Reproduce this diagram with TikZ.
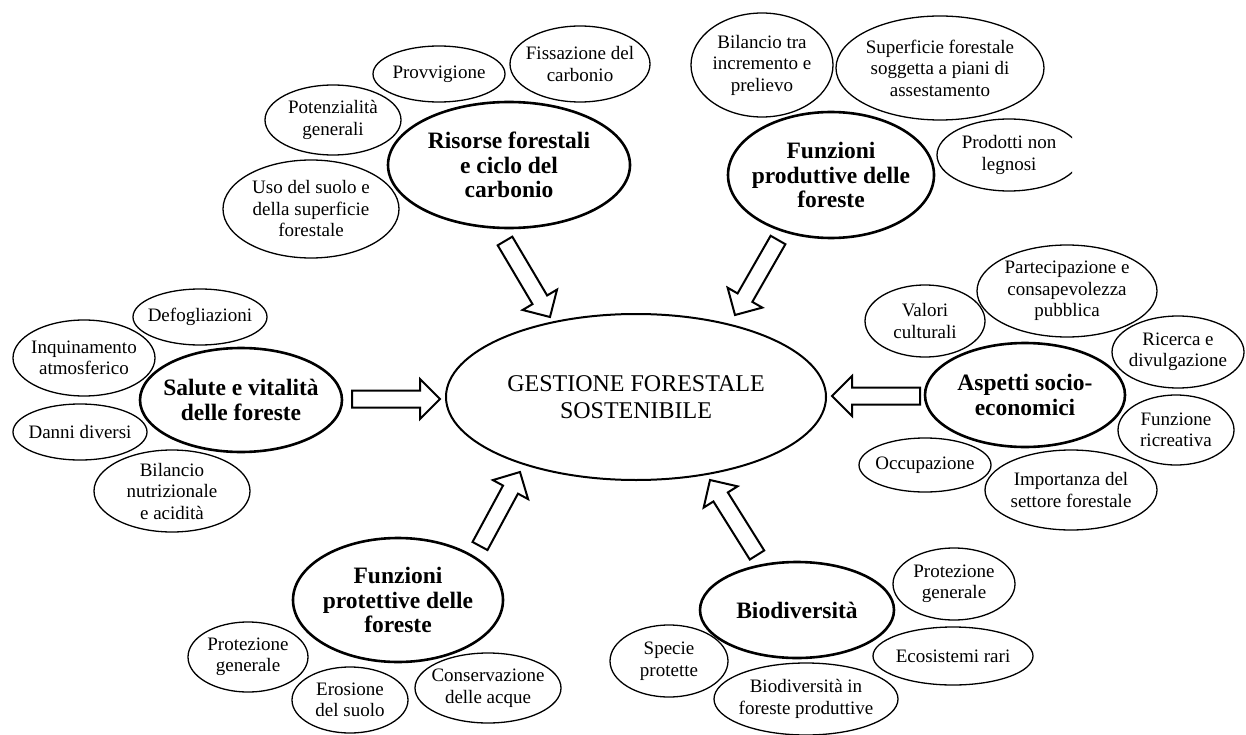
\documentclass[tikz,border=0pt]{standalone}
\usepackage{fontspec}
\setmainfont{Liberation Serif}
\usetikzlibrary{shapes.geometric,calc}
\tikzset{
  smallell/.style={draw, ellipse, line width=1.3pt, inner sep=0pt},
  catell/.style={draw, ellipse, line width=2.6pt, inner sep=0pt},
  centell/.style={draw, ellipse, line width=2pt, inner sep=0pt, align=center,
     font=\fontsize{24}{27}\selectfont},
  lbls/.style={align=center, inner sep=0pt, font=\fontsize{19}{21.5}\selectfont},
  lblc/.style={align=center, inner sep=0pt, font=\bfseries\fontsize{23.5}{24.5}\selectfont},
  barrow/.style={draw, line width=2pt, line join=miter, fill=white},
}
\newcommand{\blockarrow}[2]{%
  \coordinate (#1-b) at ($(#2)!20pt!(#1)$);
  \draw[barrow] ($(#1)!8.5pt!90:(#2)$) -- ($(#1-b)!8.5pt!90:(#2)$) -- ($(#1-b)!20pt!90:(#2)$)
     -- (#2) -- ($(#1-b)!20pt!-90:(#2)$) -- ($(#1-b)!8.5pt!-90:(#2)$) -- ($(#1)!8.5pt!-90:(#2)$) -- cycle;}
\begin{document}
\begin{tikzpicture}[x=1pt, y=-1pt]
\useasboundingbox (0,0) rectangle (1246,735);

% central
\node[centell, minimum width=380pt, minimum height=166pt] (gfs) at (636,397) {GESTIONE FORESTALE\\SOSTENIBILE};

% categories
\node[catell, minimum width=242pt, minimum height=126pt, label={[lblc]center:Risorse forestali\\e ciclo del\\carbonio}] (risorse) at (509,165) {};
\node[catell, minimum width=206pt, minimum height=126pt, label={[lblc]center:Funzioni\\produttive delle\\foreste}] (prod) at (831,175) {};
\node[catell, minimum width=202pt, minimum height=104pt, label={[lblc]center:Salute e vitalità\\delle foreste}] (salute) at (241,400) {};
\node[catell, minimum width=200pt, minimum height=104pt, label={[lblc]center:Aspetti socio-\\economici}] (aspetti) at (1025,395) {};
\node[catell, minimum width=210pt, minimum height=124pt, label={[lblc]center:Funzioni\\protettive delle\\foreste}] (protett) at (398,600) {};
\node[catell, minimum width=194pt, minimum height=96pt, label={[lblc]center:Biodiversità}] (biodiv) at (797,610) {};

% small: risorse
\node[smallell, minimum width=132pt, minimum height=56pt, label={[lbls]center:Provvigione}] (provv) at (439,74) {};
\node[smallell, minimum width=140pt, minimum height=76pt, label={[lbls]center:Fissazione del\\carbonio}] (fiss) at (580,64) {};
\node[smallell, minimum width=136pt, minimum height=70pt, label={[lbls]center:Potenzialità\\generali}] (potenz) at (333,120) {};
\node[smallell, minimum width=176pt, minimum height=98pt, label={[lbls]center:Uso del suolo e\\della superficie\\forestale}] (uso) at (311,209) {};

% small: produttive
\node[smallell, minimum width=142pt, minimum height=104pt, label={[lbls]center:Bilancio tra\\incremento e\\prelievo}] (bilinc) at (762,65) {};
\node[smallell, minimum width=208pt, minimum height=104pt, label={[lbls]center:Superficie forestale\\soggetta a piani di\\assestamento}] (superf) at (940,68) {};
\begin{scope}
\clip (0,0) rectangle (1072,735);
\node[smallell, minimum width=144pt, minimum height=72pt, label={[lbls]center:Prodotti non\\legnosi}] (prodotti) at (1009,155) {};
\end{scope}

% small: salute
\node[smallell, minimum width=134pt, minimum height=56pt, label={[lbls]center:Defogliazioni}] (defog) at (200,317) {};
\node[smallell, minimum width=142pt, minimum height=76pt, label={[lbls]center:Inquinamento\\atmosferico}] (inquin) at (84,358) {};
\node[smallell, minimum width=134pt, minimum height=56pt, label={[lbls]center:Danni diversi}] (danni) at (80,432) {};
\node[smallell, minimum width=156pt, minimum height=82pt, label={[lbls]center:Bilancio\\nutrizionale\\e acidità}] (bilnut) at (172,491) {};

% small: aspetti
\node[smallell, minimum width=120pt, minimum height=72pt, label={[lbls]center:Valori\\culturali}] (valori) at (925,321) {};
\node[smallell, minimum width=180pt, minimum height=92pt, label={[lbls]center:Partecipazione e\\consapevolezza\\pubblica}] (partec) at (1067,291) {};
\node[smallell, minimum width=132pt, minimum height=72pt, label={[lbls]center:Ricerca e\\divulgazione}] (ricerca) at (1178,352) {};
\node[smallell, minimum width=116pt, minimum height=70pt, label={[lbls]center:Funzione\\ricreativa}] (ricre) at (1176,430) {};
\node[smallell, minimum width=132pt, minimum height=54pt, label={[lbls]center:Occupazione}] (occup) at (925,465) {};
\node[smallell, minimum width=172pt, minimum height=80pt, label={[lbls]center:Importanza del\\settore forestale}] (import) at (1071,490) {};

% small: protettive
\node[smallell, minimum width=120pt, minimum height=70pt, label={[lbls]center:Protezione\\generale}] (protgenA) at (248,657) {};
\node[smallell, minimum width=116pt, minimum height=66pt, label={[lbls]center:Erosione\\del suolo}] (erosione) at (350,700) {};
\node[smallell, minimum width=146pt, minimum height=70pt, label={[lbls]center:Conservazione\\delle acque}] (conserv) at (488,688) {};

% small: biodiversita
\node[smallell, minimum width=122pt, minimum height=72pt, label={[lbls]center:Protezione\\generale}] (protgenB) at (954,584) {};
\node[smallell, minimum width=160pt, minimum height=58pt, label={[lbls]center:Ecosistemi rari}] (ecosist) at (953,656) {};
\node[smallell, minimum width=118pt, minimum height=72pt, label={[lbls]center:Specie\\protette}] (specie) at (669,661) {};
\node[smallell, minimum width=184pt, minimum height=72pt, label={[lbls]center:Biodiversità in\\foreste produttive}] (biodfor) at (806,699) {};

% block arrows
\coordinate (a1t) at (505,241); \coordinate (a1h) at (550,317);
\coordinate (a2t) at (778,240); \coordinate (a2h) at (735,315);
\coordinate (a3t) at (352,399); \coordinate (a3h) at (440,399);
\coordinate (a4t) at (920,396); \coordinate (a4h) at (832,396);
\coordinate (a5t) at (480,546); \coordinate (a5h) at (520,472);
\coordinate (a6t) at (757,555); \coordinate (a6h) at (710,480);
\blockarrow{a1t}{a1h}
\blockarrow{a2t}{a2h}
\blockarrow{a3t}{a3h}
\blockarrow{a4t}{a4h}
\blockarrow{a5t}{a5h}
\blockarrow{a6t}{a6h}
\end{tikzpicture}
\end{document}
